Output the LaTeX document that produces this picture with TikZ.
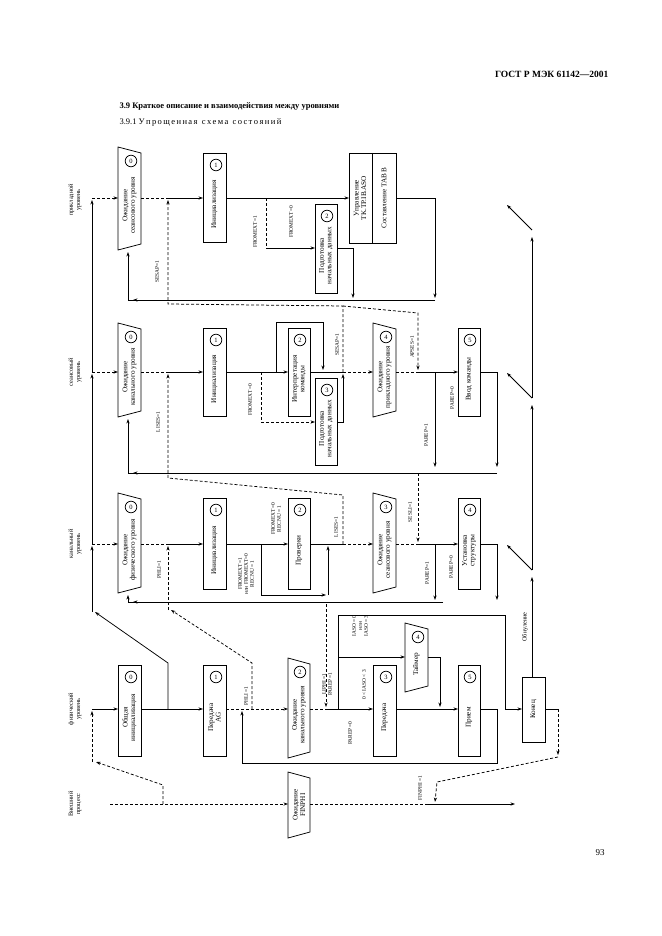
\documentclass[tikz,border=0pt]{standalone}
\usepackage{fontspec}
\setmainfont{Liberation Serif}
\usetikzlibrary{arrows.meta}
\tikzset{ar/.style={-{Stealth[length=4.5pt,width=3.2pt]}},
 ln/.style={line width=0.75pt},
 dsh/.style={dash pattern=on 3pt off 2pt},
 lbl/.style={font=\fontsize{5.4}{6}\selectfont, rotate=90, inner sep=0.5pt, align=center},
 btxt/.style={font=\fontsize{7.2}{7.6}\selectfont, rotate=90, align=center, inner sep=0.5pt},
 lev/.style={font=\fontsize{6.3}{7.3}\selectfont, rotate=90, align=center}}
\newcommand\rbox[7]{\draw[ln] (#2,#4) rectangle (#3,#5);
 \node[btxt] (#1) at ({(#2+#3)/2},{(#4+#5)/2+7}) {#6};
 \draw[ln] ({#3-10},{#4+12}) circle (5.8); \node[font=\fontsize{6.5}{6.5}\selectfont] at ({#3-10},{#4+12}) {#7};}
\newcommand\pbox[7]{\draw[ln] (#2,#4)--(#3,{#4+6})--(#3,{#5-6})--(#2,#5)--cycle;
 \node[btxt] (#1) at ({(#2+#3)/2},{(#4+#5)/2+7}) {#6};
 \draw[ln] ({#3-10},{#4+14}) circle (5.8); \node[font=\fontsize{6.5}{6.5}\selectfont] at ({#3-10},{#4+14}) {#7};}
\begin{document}
\begin{tikzpicture}[x=1pt,y=-1pt]
\useasboundingbox (0,0) rectangle (661,936);
\fill[white] (0,0) rectangle (661,936);
% header
\node[anchor=east,font=\bfseries\fontsize{9.5}{10}\selectfont] (hd) at (612,74) {ГОСТ Р МЭК 61142—2001};
\node[anchor=west,font=\bfseries\fontsize{8.5}{9}\selectfont] (t1) at (116,106) {3.9 Краткое описание и взаимодействия между уровнями};
\node[anchor=west,font=\fontsize{8.5}{9}\selectfont] (t2) at (116,122) {3.9.1 У\,п\,р\,о\,щ\,е\,н\,н\,а\,я\ \ с\,х\,е\,м\,а\ \ с\,о\,с\,т\,о\,я\,н\,и\,й};
\node[font=\fontsize{9}{9}\selectfont] (pg) at (600,853) {93};
% levels
\node[lev] (L1) at (75,200) {прикладной\\уровень};
\node[lev] (L2) at (75,372) {сеансовый\\уровень};
\node[lev] (L3) at (75,544) {канальный\\уровень};
\node[lev] (L4) at (75,709) {физический\\уровень};
\node[lev] (L5) at (75,804) {Внешний\\процесс};
% application
\pbox{A0}{118}{141}{147}{250}{Ожидание\\сеансового уровня}{0}
\rbox{A1}{203}{226}{153}{242}{Инициализация}{1}
\rbox{A2}{315}{337}{204}{293}{Подготовка\\начальных данных}{2}
\draw[ln] (349,153) rectangle (396,243); \draw[ln] (372,153)--(372,243);
\node[btxt] (A3) at (360,198) {Управление\\TK.TP.IB.ASO};
\node[btxt] (A4) at (384,198) {Составление TAB B};
% session
\pbox{S0}{118}{141}{323}{417}{Ожидание\\канального уровня}{0}
\rbox{S1}{203}{226}{328}{416}{Инициализация}{1}
\rbox{S2}{288}{310}{328}{416}{Интерпретация\\команды}{2}
\rbox{S3}{315}{337}{378}{465}{Подготовка\\начальных данных}{3}
\pbox{S4}{373}{396}{323}{417}{Ожидание\\прикладного уровня}{4}
\rbox{S5}{458}{480}{328}{416}{Ввод команды}{5}
% channel
\pbox{C0}{118}{141}{493}{593}{Ожидание\\физического уровня}{0}
\rbox{C1}{203}{226}{498}{589}{Инициализация}{1}
\rbox{C2}{288}{310}{498}{589}{Проверки}{2}
\pbox{C3}{373}{396}{493}{593}{Ожидание\\сеансового уровня}{3}
\rbox{C4}{458}{480}{498}{589}{Установка\\структуры}{4}
% physical
\rbox{P0}{118}{141}{665}{756}{Общая\\инициализация}{0}
\rbox{P1}{203}{226}{665}{756}{Передача\\AG}{1}
\pbox{P2}{288}{310}{658}{758}{Ожидание\\канального уровня}{2}
\rbox{P3}{373}{396}{665}{756}{Передача}{3}
\pbox{P4}{405}{428}{623}{692}{Таймер}{4}
\rbox{P5}{458}{480}{665}{756}{Прием}{5}
\draw[ln] (522,677) rectangle (545,742); \node[btxt] (PE) at (533.5,709.5) {Конец};
% external
\draw[ln] (288,772)--(310,778)--(310,832)--(288,838)--cycle;
\node[btxt] (E0) at (299,805) {Ожидание\\FINPHI};

\begin{scope}[ln]
% app row
\draw[dsh,ar] (92,198)--(118,198);
\draw[dsh] (141,198)--(168,198);
\draw[ar] (168,198)--(203,198);
\draw[ar] (226,198)--(349,198);
\draw[dsh] (266,198)--(266,248);
\draw[ar] (266,248)--(315,248);
\draw[ar] (337,248)--(353,248)--(353,298);
\draw[ar] (396,198)--(435,198)--(435,298);
\draw[ar] (435,300)--(128,300)--(128,252);
\draw[ar] (160,300)--(133,300);
\draw[dsh,ar] (343,372)--(343,306)--(168,304)--(168,200);
\draw[dsh,ar] (343,306)--(418,313)--(418,370);
% session row
\draw[dsh,ar] (92,372)--(118,372);
\draw[dsh] (141,372)--(168,372);
\draw[ar] (168,372)--(203,372);
\draw[ar] (226,372)--(288,372);
\draw[ar] (276,372)--(276,322)--(323,322)--(323,370);
\draw[dsh] (261,372)--(261,422);
\draw[dsh,ar] (261,422)--(315,422);
\draw (310,372)--(343,372);
\draw[ar] (337,422)--(343,422)--(343,374);
\draw[dsh,ar] (343,372)--(373,372);
\draw[dsh] (396,372)--(418,372);
\draw[ar] (418,372)--(458,372);
\draw[ar] (435,372)--(435,467);
\draw[ar] (480,372)--(497,372)--(497,467);
\draw[ar] (497,473)--(128,473)--(128,419);
\draw[ar] (160,473)--(133,473);
\draw[dsh,ar] (343,544)--(343,495)--(168,478)--(168,374);
\draw[dsh,ar] (418,473)--(418,542);
% channel row
\draw[dsh,ar] (92,544)--(118,544);
\draw[dsh] (141,544)--(168,544);
\draw[ar] (168,544)--(203,544);
\draw[ar] (226,544)--(288,544);
\draw[ar] (261,544)--(261,595)--(326,595);
\draw[ar] (328,595)--(328,546);
\draw (310,544)--(343,544);
\draw[dsh,ar] (343,544)--(373,544);
\draw[dsh] (396,544)--(418,544);
\draw[ar] (418,544)--(458,544);
\draw[ar] (435,544)--(435,600);
\draw[ar] (480,544)--(497,544)--(497,600);
\draw[ar] (443,602)--(128,602)--(128,595);
\draw[ar] (160,602)--(133,602);
\draw[dsh,ar] (326,604)--(326,707);
% physical row
\draw[ar] (92,709)--(118,709);
\draw[ar] (141,709)--(203,709);
\draw[ar] (168,709)--(168,663)--(95,612);
\draw[ar] (92,612)--(92,546);
\draw[ar] (92,544)--(92,374);
\draw[ar] (92,372)--(92,200);
\draw[dsh,ar] (226,709)--(288,709);
\draw[dsh,ar] (252,709)--(252,663)--(171,610);
\draw[dsh,ar] (168,610)--(168,546);
\draw[dsh] (310,709)--(326,709);
\draw[ar] (326,709)--(373,709);
\draw[ar] (338,709)--(338,615)--(505,615)--(505,709)--(522,709);
\draw[ar] (338,657)--(405,657);
\draw[ar] (428,657)--(440,657)--(440,707);
\draw[ar] (396,709)--(458,709);
\draw[ar] (480,709)--(497,709)--(497,763)--(242,763)--(242,711);
\draw (545,709)--(558,709);
\draw[dsh,ar] (558,709)--(558,755);
\draw[dsh,ar] (558,757)--(437,782)--(435,802);
\draw[ar] (532,677)--(532,577);
\draw[ar] (532,570)--(507,545);
\draw[ar] (532,570)--(532,405);
\draw[ar] (532,398)--(507,373);
\draw[ar] (532,398)--(532,237);
\draw[ar] (532,230)--(507,205);
% external
\draw[dsh,ar] (110,804)--(288,804);
\draw[dsh,ar] (163,804)--(163,785)--(96,762);
\draw[dsh,ar] (92,762)--(92,711);
\draw[dsh] (310,804)--(425,804);
\draw[ar] (425,804)--(515,804);
\end{scope}
% labels
\node[lbl] (l1) at (255,232) {FROMEXT=1};
\node[lbl] (l2) at (291,222) {FROMEXT=0};
\node[lbl] (l3) at (157,272) {SESAP=1};
\node[lbl] (l4) at (250,400) {FROMEXT=0};
\node[lbl] (l5) at (337,345) {SESAP=1};
\node[lbl] (l6) at (412,347) {APSES=1};
\node[lbl] (l7) at (158,422) {LISES=1};
\node[lbl] (l8) at (426,435) {PAREP=1};
\node[lbl] (l9) at (452,398) {PAREP=0};
\node[lbl] (l10) at (276,519) {FROMEXT=0\\RECNU = 1};
\node[lbl] (l11) at (246,574) {FROMEXT=1\\или FROMEXT=0\\RECNU = 1};
\node[lbl] (l12) at (336,527) {LISES=1};
\node[lbl] (l13) at (159,570) {PHLI=1};
\node[lbl] (l14) at (410,512) {SESLI=1};
\node[lbl] (l15) at (427,573) {PAREP=1};
\node[lbl] (l16) at (451,567) {PAREP=0};
\node[lbl] (l17) at (246,696) {PHLI =1};
\node[lbl] (l18) at (327,684) {LIPHI =1\\PAREP =1};
\node[lbl] (l19) at (360,626) {IASO = 0\\или\\IASO = 3};
\node[lbl] (l20) at (364,685) {0 < IASO < 3};
\node[lbl] (l21) at (350,733) {PAREP =0};
\node[lbl,font=\fontsize{6.3}{7}\selectfont] (l22) at (525,627) {Обнуление};
\node[lbl] (l23) at (420,788) {FINPHI =1};
\end{tikzpicture}
\end{document}
